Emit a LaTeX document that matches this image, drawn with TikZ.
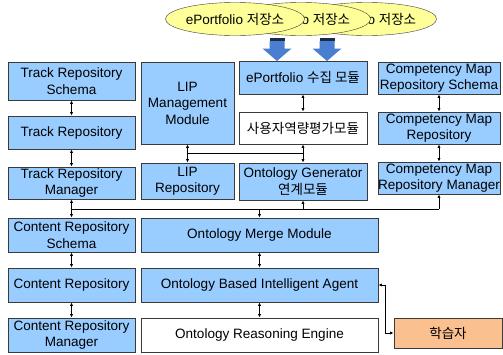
\documentclass[tikz,border=0pt]{standalone}
\usepackage{fontspec}
\setmainfont{Liberation Sans}
\newfontfamily\kofont{Noto Sans CJK KR}
\usetikzlibrary{arrows.meta, shapes.geometric}
\definecolor{boxBlue}{HTML}{99CCFF}
\definecolor{lineGrey}{HTML}{3A3A3A}
\definecolor{storeYellow}{HTML}{FFFF99}
\definecolor{flowBlue}{HTML}{4A7ED0}
\definecolor{flowNavy}{HTML}{1C2A48}
\definecolor{learnerOrange}{HTML}{FAC090}

\tikzset{
  blk/.style={draw=lineGrey, fill=boxBlue, align=center, inner sep=0pt, line width=0.8bp},
  colL/.style={blk, minimum width=127bp, minimum height=34bp},
  colM/.style={blk, minimum width=93bp},
  colG/.style={blk, minimum width=128bp, minimum height=33bp},
  colC/.style={blk, minimum width=122bp, minimum height=32bp},
  wide/.style={blk, minimum width=237bp, minimum height=34bp},
  store/.style={ellipse, draw=lineGrey, fill=storeYellow, minimum width=127bp, minimum height=33bp, inner sep=0pt},
  link/.style={{Latex[length=3.5bp,width=3.2bp]}-{Latex[length=3.5bp,width=3.2bp]}, line width=0.8bp},
  bus/.style={line width=0.8bp},
  tip/.style={-{Latex[length=3.5bp,width=3.2bp]}, line width=0.8bp},
}

\begin{document}
\begin{tikzpicture}[x=1bp, y=-1bp, font=\fontsize{13.6}{16.5}\selectfont]
    \useasboundingbox (0,0) rectangle (503,354);

    % depots ePortfolio (le dernier dessine passe devant)
    \node[store] (st3) at (367,19) {ePortfolio {\kofont 저장소}};
    \node[store] (st2) at (301,19) {ePortfolio {\kofont 저장소}};
    \node[store] (st1) at (235,19) {ePortfolio {\kofont 저장소}};

    % colonne de gauche
    \node[colL, minimum height=38bp] (trs) at (71.5,81)    {Track Repository\\Schema};
    \node[colL, minimum height=33bp] (tr)  at (71.5,132.5) {Track Repository};
    \node[colL, minimum height=32bp] (trm) at (71.5,183)   {Track Repository\\Manager};
    \node[colL] (crs) at (71.5,235) {Content Repository\\Schema};
    \node[colL] (cr)  at (71.5,285) {Content Repository};
    \node[colL] (crm) at (71.5,335) {Content Repository\\Manager};

    % LIP
    \node[colM, minimum height=82bp] (lipm) at (187.5,103) {LIP\\Management\\Module};
    \node[colM, minimum height=36bp] (lipr) at (187.5,181) {LIP\\Repository};

    % ePortfolio / generateur
    \node[colG] (epm) at (303,77.5) {ePortfolio {\kofont 수집 모듈}};
    \node[colG, fill=white, minimum height=32bp] (uam) at (303,128) {\kofont 사용자역량평가모듈};
    \node[colG, minimum height=37bp] (ogen) at (303,181.5) {Ontology Generator\\{\kofont 연계모듈}};

    % competency map
    \node[colC] (cmrs) at (439,78)  {Competency Map\\Repository Schema};
    \node[colC] (cmr)  at (439,128) {Competency Map\\Repository};
    \node[colC] (cmrm) at (439,178) {Competency Map\\Repository Manager};

    % modules ontologie
    \node[wide] (omm)  at (259.5,235) {Ontology Merge Module};
    \node[wide] (obia) at (259.5,285) {Ontology Based Intelligent Agent};
    \node[wide, fill=white] (ore) at (259.5,335) {Ontology Reasoning Engine};

    \node[blk, fill=learnerOrange, minimum width=108bp, minimum height=30bp] (lrn) at (448,333) {\kofont 학습자};

    % fleches pleines vers le module de collecte
    \foreach \ax in {277,327} {
      \fill[flowBlue] (\ax-7.5,41) -- (\ax+7.5,41) -- (\ax+7.5,48.5) -- (\ax+14.5,48.5)
        -- (\ax,61) -- (\ax-14.5,48.5) -- (\ax-7.5,48.5) -- cycle;
      \fill[flowNavy] (\ax-7.5,38) rectangle (\ax+7.5,40.5);
    }

    % liaisons verticales
    \foreach \a/\b in {trs/tr, tr/trm, trm/crs, crs/cr, cr/crm, lipm/lipr,
                       epm/uam, uam/ogen, cmrs/cmr, cmr/cmrm, omm/obia, obia/ore}
      \draw[link] (\a.south) -- (\b.north);

    % raccord LIP -> generateur
    \coordinate (lipJ) at (187.5,153);
    \draw[bus] (lipJ) -- (lipJ -| uam.south);

    % bus du bas
    \coordinate (busL) at (71.5,209);
    \coordinate (busR) at (439,209);
    \draw[bus] (busL) -- (busR);
    \draw[tip] (busR) -- (cmrm.south);
    \draw[tip] (busL -| ogen.south) -- (ogen.south);
    \draw[tip] (busL -| omm.north) -- (omm.north);

    % agent <-> apprenant
    \draw[link] (obia.east) -- ++(7,0) |- (lrn.west);
\end{tikzpicture}
\end{document}
